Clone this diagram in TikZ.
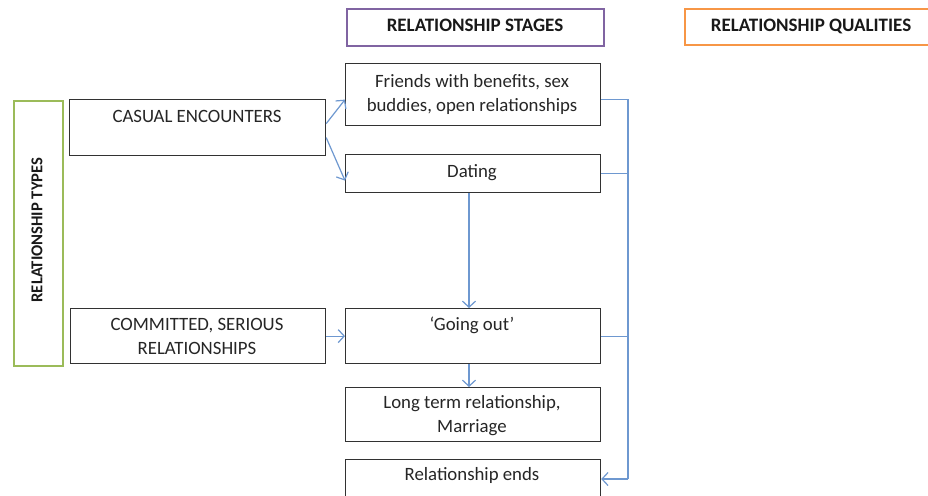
\documentclass[tikz,border=0pt]{standalone}
\usepackage{fontspec}
\setmainfont{Carlito}
\usetikzlibrary{arrows.meta}
\definecolor{flow}{RGB}{110,152,208}
\definecolor{stagec}{RGB}{128,100,162}
\definecolor{qualc}{RGB}{247,150,70}
\definecolor{typec}{RGB}{155,187,89}
\definecolor{boxc}{RGB}{50,50,50}
\begin{document}
\begin{tikzpicture}[x=1pt,y=-1pt,
  box/.style={draw=boxc, line width=1.2pt, anchor=north west, inner sep=0pt},
  hdr/.style={line width=2.4pt, anchor=north west, inner sep=0pt},
  txt/.style={font=\fontsize{18.8}{24}\selectfont, align=center, inner sep=0pt, anchor=base, text=black!85},
  htxt/.style={font=\fontsize{19}{22}\selectfont\bfseries, inner sep=0pt, anchor=base, text=black!90},
  vtxt/.style={font=\fontsize{16.6}{20}\selectfont\bfseries, inner sep=0pt, text=black!90},
  flowline/.style={draw=flow, line width=1.2pt},
  flowarrow/.style={flowline, -{Straight Barb[length=6pt,width=13pt,line width=1.2pt]}}
]
\useasboundingbox[fill=white] (0,0) rectangle (928,495);

% headers
\node[hdr, draw=stagec, minimum width=257, minimum height=37] (stages) at (346,8) {};
\node[htxt] (stagest) at (475,32) {RELATIONSHIP STAGES};
\node[hdr, draw=qualc, minimum width=260, minimum height=36] (quals) at (684,8) {};
\node[htxt] (qualst) at (811,32) {RELATIONSHIP QUALITIES};
\node[hdr, draw=typec, minimum width=49, minimum height=265] (types) at (12.5,99.5) {};
\node[vtxt, rotate=90, anchor=center] (typest) at (37,230) {RELATIONSHIP TYPES};

% type boxes
\node[box, minimum width=256, minimum height=56] (casual) at (69,99) {};
\node[txt] (casualt) at (197,122) {CASUAL ENCOUNTERS};
\node[box, minimum width=255, minimum height=55] (committed) at (70,308) {};
\node[txt] (committedt) at (197,354) {COMMITTED, SERIOUS\\RELATIONSHIPS};

% stage boxes
\node[box, minimum width=255, minimum height=62] (friends) at (345,63) {};
\node[txt] (friendst) at (472,111) {Friends with benefits, sex\\buddies, open relationships};
\node[box, minimum width=255, minimum height=38] (dating) at (345,154) {};
\node[txt] (datingt) at (472,177) {Dating};
\node[box, minimum width=255, minimum height=55] (goingout) at (345,308) {};
\node[txt] (goingoutt) at (472,330) {‘Going out’};
\node[box, minimum width=255, minimum height=54] (longterm) at (345,387) {};
\node[txt] (longtermt) at (472,432) {Long term relationship,\\Marriage};
\node[box, minimum width=255, minimum height=50] (ends) at (345,459) {};
\node[txt] (endst) at (472,480) {Relationship ends};

% connectors
\draw[flowarrow] ([yshift=4pt]casual.east) -- ([yshift=-5pt]friends.west);
\draw[flowarrow] ([yshift=-10pt]casual.east) -- ([yshift=-7pt]dating.west);
\draw[flowarrow] (committed.east) -- (committed.east -| goingout.west);
\draw[flowarrow] (dating.south -| 469,0) -- (goingout.north -| 469,0);
\draw[flowarrow] (goingout.south -| 469,0) -- (longterm.north -| 469,0);

\coordinate (rail) at (628,0);
\draw[flowline] ([yshift=-5pt]friends.east) -- ([yshift=-5pt]friends.east -| rail) -- (rail |- 0,479);
\draw[flowline] (dating.east) -- (dating.east -| rail);
\draw[flowline] (goingout.east) -- (goingout.east -| rail);
\draw[flowarrow] (rail |- 0,479) -- (ends.east |- 0,479);
\end{tikzpicture}
\end{document}
